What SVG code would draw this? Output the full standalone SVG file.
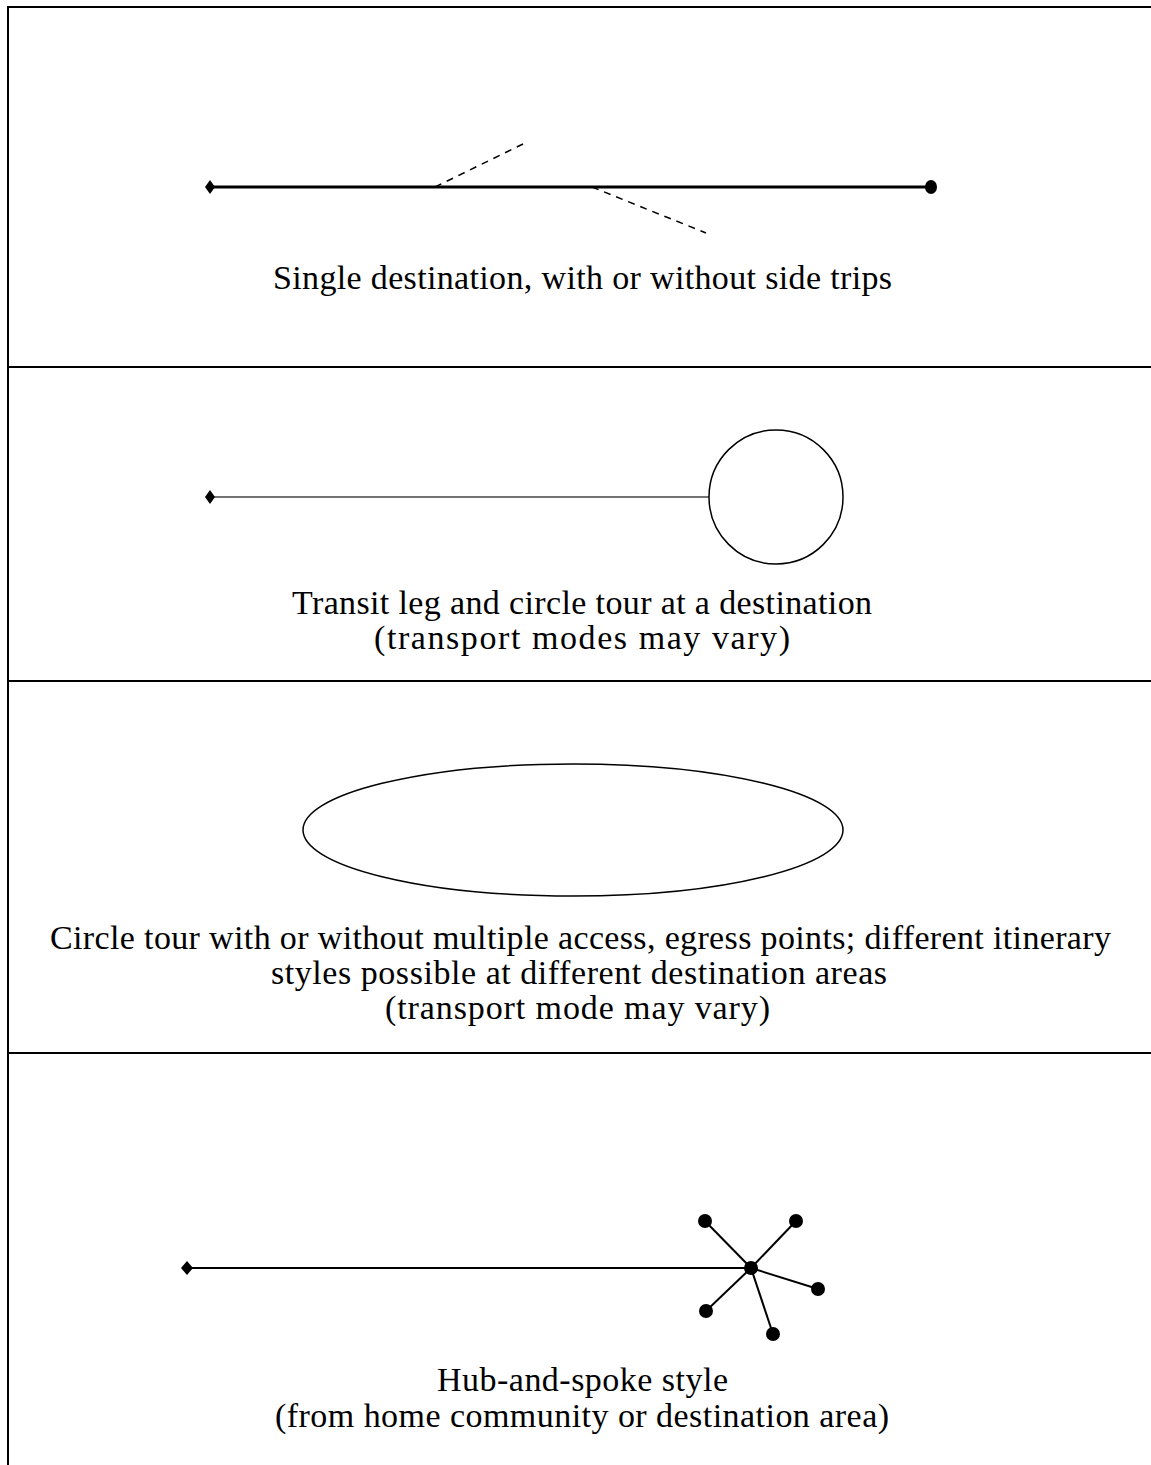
<svg xmlns="http://www.w3.org/2000/svg" width="1151" height="1465" viewBox="0 0 1151 1465">
<style>
text{font-family:"Liberation Serif","Times New Roman",serif;font-size:34px;fill:#000;text-anchor:middle}
.frame{stroke:#000;stroke-width:2;fill:none}
.thick{stroke:#000;stroke-width:3;fill:none}
.mid{stroke:#000;stroke-width:2.2;fill:none}
.thin{stroke:#444;stroke-width:1.5;fill:none}
.dash{stroke:#000;stroke-width:1.5;stroke-dasharray:7,6;fill:none}
.outline{stroke:#000;stroke-width:1.5;fill:#fff}
.dot{fill:#000}
</style>
<rect width="1151" height="1465" fill="#fff"/>
<g id="frame">
<path class="frame" d="M8,1465 V7 H1151"/>
<path class="frame" d="M8,367 H1151 M8,681 H1151 M8,1053 H1151"/>
</g>
<g id="connectors">
<line class="thick" x1="210" y1="187" x2="931" y2="187"/>
<line class="dash" x1="435" y1="187" x2="525" y2="143"/>
<line class="dash" x1="592" y1="187" x2="706" y2="233"/>
<line class="thin" x1="210" y1="497" x2="709" y2="497"/>
<line class="mid" x1="187" y1="1268" x2="751" y2="1268"/>
<g stroke="#000" stroke-width="2" fill="none">
<line x1="751" y1="1268" x2="705" y2="1221"/>
<line x1="751" y1="1268" x2="796" y2="1221"/>
<line x1="751" y1="1268" x2="818" y2="1289"/>
<line x1="751" y1="1268" x2="773" y2="1334"/>
<line x1="751" y1="1268" x2="706" y2="1311"/>
</g>
</g>
<g id="panel1">
<polygon class="dot" points="210,180 215,187 210,194 205,187"/>
<ellipse class="dot" cx="931" cy="187" rx="6" ry="7"/>
<text x="582.5" y="289" textLength="619" lengthAdjust="spacing">Single destination, with or without side trips</text>
</g>
<g id="panel2">
<polygon class="dot" points="210,490 215,497 210,504 205,497"/>
<circle class="outline" cx="776" cy="497" r="67"/>
<text x="582" y="614" textLength="580" lengthAdjust="spacing">Transit leg and circle tour at a destination</text>
<text x="582" y="649" textLength="416" lengthAdjust="spacing">(transport modes may vary)</text>
</g>
<g id="panel3">
<ellipse class="outline" cx="573" cy="830" rx="270" ry="66"/>
<text x="580.5" y="949" textLength="1061" lengthAdjust="spacing">Circle tour with or without multiple access, egress points; different itinerary</text>
<text x="579" y="984" textLength="616" lengthAdjust="spacing">styles possible at different destination areas</text>
<text x="577.5" y="1019" textLength="385" lengthAdjust="spacing">(transport mode may vary)</text>
</g>
<g id="panel4">
<polygon class="dot" points="187,1261 193,1268 187,1275 181,1268"/>
<circle class="dot" cx="751" cy="1268" r="7"/>
<circle class="dot" cx="705" cy="1221" r="7"/>
<circle class="dot" cx="796" cy="1221" r="7"/>
<circle class="dot" cx="818" cy="1289" r="7"/>
<circle class="dot" cx="773" cy="1334" r="7"/>
<circle class="dot" cx="706" cy="1311" r="7"/>
<text x="582.5" y="1391" textLength="291" lengthAdjust="spacing">Hub-and-spoke style</text>
<text x="582" y="1427" textLength="614" lengthAdjust="spacing">(from home community or destination area)</text>
</g>
</svg>
